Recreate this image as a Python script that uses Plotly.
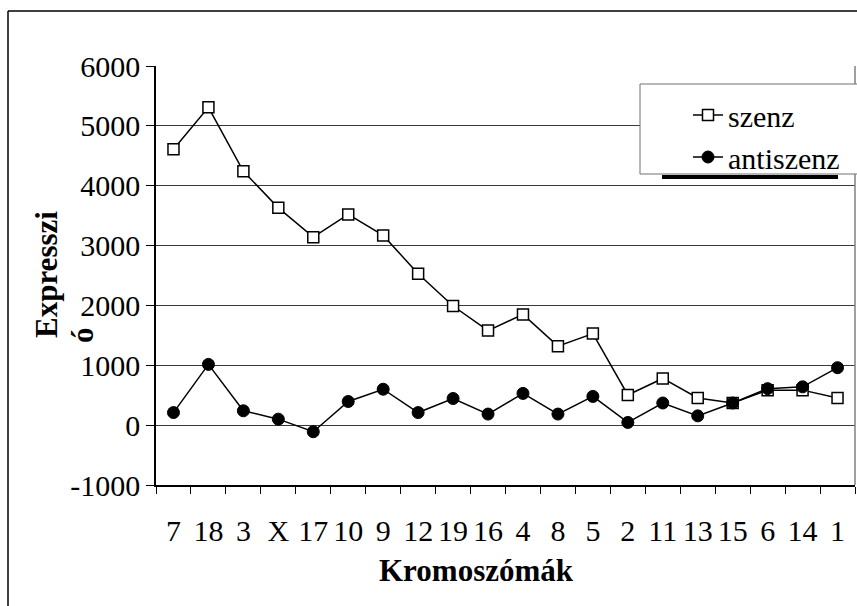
import plotly.graph_objects as go

categories = ["7", "18", "3", "X", "17", "10", "9", "12", "19", "16",
              "4", "8", "5", "2", "11", "13", "15", "6", "14", "1"]
szenz = [4610, 5310, 4240, 3630, 3140, 3520, 3170, 2530, 1990, 1580,
         1850, 1320, 1530, 505, 780, 455, 370, 585, 585, 455]
antiszenz = [210, 1015, 240, 100, -110, 395, 600, 210, 445, 185,
             530, 185, 480, 45, 370, 155, 370, 610, 640, 960]
y_ticks = [-1000, 0, 1000, 2000, 3000, 4000, 5000, 6000]
y_ticktext = ["-1000", "0", "1000", "2000", "3000", "4000", "5000", "6000"]

FONT = "Liberation Serif"
W, H = 857, 606
L, R, T, B = 156, 2, 66, 121
PW, PH = W - L - R, H - T - B


def px(x):
    return (x - L) / PW


def py(y):
    return (H - B - y) / PH


fig = go.Figure()
fig.add_trace(go.Scatter(
    x=categories, y=szenz, name="szenz", mode="lines+markers",
    line=dict(color="black", width=1.5),
    marker=dict(symbol="square", size=11, color="white",
                line=dict(color="black", width=1.5)),
))
fig.add_trace(go.Scatter(
    x=categories, y=antiszenz, name="antiszenz", mode="lines+markers",
    line=dict(color="black", width=1.5),
    marker=dict(symbol="circle", size=12, color="black",
                line=dict(color="black", width=1)),
))

shapes = [
    dict(type="line", xref="paper", yref="paper", x0=px(8), x1=px(870),
         y0=py(11), y1=py(11), line=dict(color="black", width=1.5)),
    dict(type="line", xref="paper", yref="paper", x0=px(8), x1=px(8),
         y0=py(11), y1=py(620), line=dict(color="black", width=1.5)),
    dict(type="line", xref="paper", yref="paper", x0=1, x1=1, y0=0, y1=1,
         line=dict(color="#808080", width=1.5)),
    dict(type="rect", xref="paper", yref="paper", x0=px(640), x1=px(870),
         y0=py(174), y1=py(84), fillcolor="white",
         line=dict(color="#707070", width=1), layer="above"),
    dict(type="line", xref="paper", yref="paper", x0=px(662), x1=px(838),
         y0=py(177), y1=py(177), line=dict(color="black", width=4),
         layer="above"),
]

annotations = [
    dict(text="<b>Kromoszómák</b>", xref="paper", yref="paper",
         x=px(476), y=py(570), showarrow=False,
         font=dict(family=FONT, size=31, color="black"),
         xanchor="center", yanchor="middle"),
    dict(text="<b>Expresszi</b>", xref="paper", yref="paper",
         x=px(46), y=py(275), showarrow=False, textangle=-90,
         font=dict(family=FONT, size=31, color="black"),
         xanchor="center", yanchor="middle"),
    dict(text="<b>ó</b>", xref="paper", yref="paper",
         x=px(82), y=py(335), showarrow=False, textangle=-90,
         font=dict(family=FONT, size=31, color="black"),
         xanchor="center", yanchor="middle"),
]

fig.update_layout(
    width=W, height=H,
    margin=dict(l=L, r=R, t=T, b=B, pad=0),
    paper_bgcolor="white", plot_bgcolor="white",
    font=dict(family=FONT, size=30, color="black"),
    showlegend=True,
    legend=dict(x=px(688), xanchor="left", y=py(136), yanchor="middle",
                bgcolor="rgba(0,0,0,0)", borderwidth=0,
                font=dict(family=FONT, size=30, color="black"),
                tracegroupgap=0, itemsizing="trace"),
    shapes=shapes,
    annotations=annotations,
    xaxis=dict(
        type="category", categoryorder="array", categoryarray=categories,
        range=[-0.5, len(categories) - 0.5],
        tickmode="array", tickvals=categories, ticktext=categories,
        tickangle=0,
        showline=True, linecolor="black", linewidth=1.5,
        ticks="outside", tickson="boundaries", ticklen=7,
        tickcolor="black", tickwidth=1,
        showgrid=False, zeroline=False,
        tickfont=dict(family=FONT, size=30, color="black"),
        ticklabelstandoff=18,
        fixedrange=True,
    ),
    yaxis=dict(
        range=[-1000, 6000], tickmode="array", tickvals=y_ticks,
        ticktext=y_ticktext,
        showline=True, linecolor="black", linewidth=1.5,
        ticks="outside", ticklen=8, tickcolor="black", tickwidth=1,
        showgrid=True, gridcolor="#3a3a3a", gridwidth=1,
        zeroline=False,
        tickfont=dict(family=FONT, size=30, color="black"),
        fixedrange=True,
    ),
)

fig.write_html("out.html", config={"displayModeBar": False})
